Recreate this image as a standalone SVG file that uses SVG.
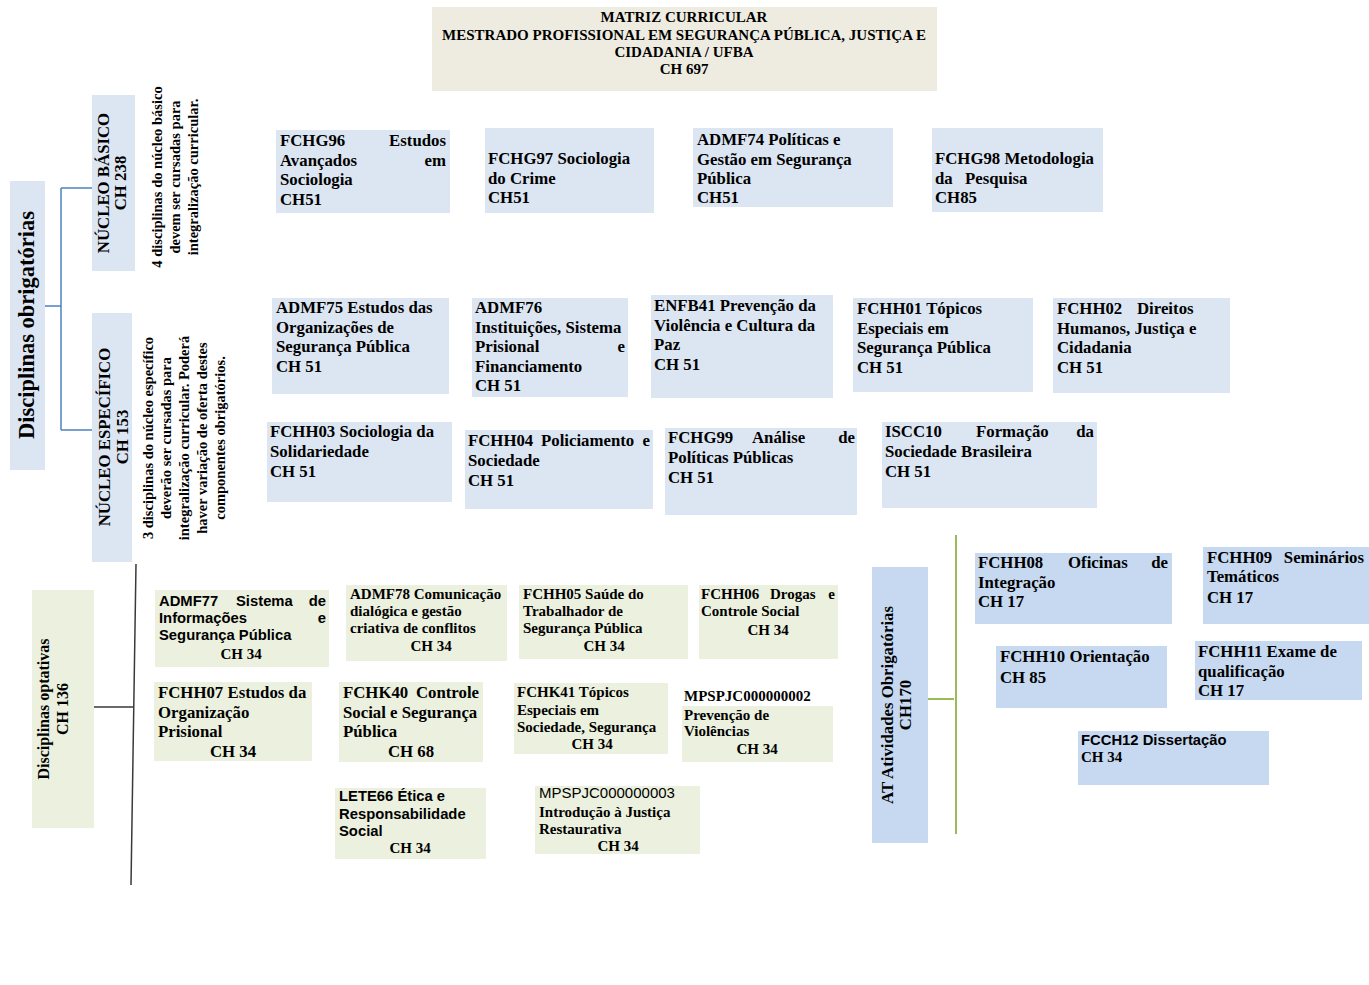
<svg xmlns="http://www.w3.org/2000/svg" width="1369" height="985" viewBox="0 0 1369 985">
<style>
.bg{fill:#ffffff}
.b{fill:#dce6f2}
.a{fill:#c6d9f1}
.g{fill:#ebf1de}
.t{fill:#eeece1}
text{font-family:"Liberation Serif","Times New Roman",serif;font-weight:bold;font-size:16.8px;fill:#000}
.tt{font-size:15px;text-anchor:middle}
.sm{font-size:15px}
.ss{font-family:"Liberation Sans",Arial,sans-serif;font-size:14.8px;font-weight:bold}
.sr{font-family:"Liberation Sans",Arial,sans-serif;font-size:15px;font-weight:normal}
.n{font-size:14.5px;text-anchor:middle}
.big{font-size:22.5px;text-anchor:middle}
.m{text-anchor:middle}
.e{text-anchor:end}
.cb{stroke:#4f81bd;stroke-width:1.5;fill:none}
.ck{stroke:#3a3a3a;stroke-width:1.5;fill:none}
.cg{stroke:#9bbb59;stroke-width:2;fill:none}
</style>
<rect class="bg" x="0" y="0" width="1369" height="985"/>

<g id="connectors">
<path class="cb" d="M45,306 H61 M61,188 V430 M61,188 H92 M61,430 H92"/>
<path class="ck" d="M136,564 L131,885 M94,707 H134"/>
<path class="cg" d="M956,535 V834 M928,699 H954"/>
</g>

<g id="title">
<rect class="t" x="432" y="7" width="505" height="84"/>
<text class="tt" x="684" y="22">MATRIZ CURRICULAR</text>
<text class="tt" x="684" y="39.5">MESTRADO PROFISSIONAL EM SEGURANÇA PÚBLICA, JUSTIÇA E</text>
<text class="tt" x="684" y="57">CIDADANIA / UFBA</text>
<text class="tt" x="684" y="74">CH 697</text>
</g>

<g id="obrigatorias">
<rect class="b" x="10" y="181" width="35" height="289"/>
<text class="big" transform="translate(34,325) rotate(-90)">Disciplinas obrigatórias</text>
</g>

<g id="nucleo-basico">
<rect class="b" x="92" y="95" width="43" height="176"/>
<text class="m" transform="translate(109,183) rotate(-90)">NÚCLEO BÁSICO</text>
<text class="m" transform="translate(126,183) rotate(-90)">CH 238</text>
</g>

<g id="nota-basico">
<text class="n" transform="translate(162,177) rotate(-90)">4 disciplinas do núcleo básico</text>
<text class="n" transform="translate(180,177) rotate(-90)">devem ser cursadas para</text>
<text class="n" transform="translate(198,177) rotate(-90)">integralização curricular.</text>
</g>

<g id="nucleo-especifico">
<rect class="b" x="92" y="313" width="40" height="249"/>
<text class="m" transform="translate(110,437) rotate(-90)">NÚCLEO ESPECÍFICO</text>
<text class="m" transform="translate(128,437) rotate(-90)">CH 153</text>
</g>

<g id="nota-especifico">
<text class="n" transform="translate(153,438) rotate(-90)">3 disciplinas do núcleo específico</text>
<text class="n" transform="translate(171,438) rotate(-90)">deverão ser cursadas para</text>
<text class="n" transform="translate(189,438) rotate(-90)">integralização curricular. Poderá</text>
<text class="n" transform="translate(207,438) rotate(-90)">haver variação de oferta destes</text>
<text class="n" transform="translate(225,438) rotate(-90)">componentes obrigatórios.</text>
</g>

<g id="FCHG96">
<rect class="b" x="276" y="130" width="174" height="83"/>
<text x="280" y="146">FCHG96</text><text class="e" x="446" y="146">Estudos</text>
<text x="280" y="165.5">Avançados</text><text class="e" x="446" y="165.5">em</text>
<text x="280" y="185">Sociologia</text>
<text x="280" y="204.5">CH51</text>
</g>

<g id="FCHG97">
<rect class="b" x="485" y="128" width="169" height="85"/>
<text x="488" y="164">FCHG97 Sociologia</text>
<text x="488" y="183.5">do Crime</text>
<text x="488" y="203">CH51</text>
</g>

<g id="ADMF74">
<rect class="b" x="693" y="128" width="200" height="79"/>
<text x="697" y="145">ADMF74 Políticas e</text>
<text x="697" y="164.5">Gestão em Segurança</text>
<text x="697" y="184">Pública</text>
<text x="697" y="203">CH51</text>
</g>

<g id="FCHG98">
<rect class="b" x="932" y="128" width="171" height="84"/>
<text x="935" y="164">FCHG98 Metodologia</text>
<text x="935" y="184">da</text><text x="965" y="184">Pesquisa</text>
<text x="935" y="203">CH85</text>
</g>

<g id="ADMF75">
<rect class="b" x="272" y="298" width="177" height="96"/>
<text x="276" y="313">ADMF75 Estudos das</text>
<text x="276" y="332.5">Organizações de</text>
<text x="276" y="352">Segurança Pública</text>
<text x="276" y="371.5">CH 51</text>
</g>

<g id="ADMF76">
<rect class="b" x="472" y="298" width="156" height="99"/>
<text x="475" y="313">ADMF76</text>
<text x="475" y="332.5">Instituições, Sistema</text>
<text x="475" y="352">Prisional</text><text class="e" x="625" y="352">e</text>
<text x="475" y="371.5">Financiamento</text>
<text x="475" y="391">CH 51</text>
</g>

<g id="ENFB41">
<rect class="b" x="651" y="295" width="182" height="103"/>
<text x="654" y="311">ENFB41 Prevenção da</text>
<text x="654" y="330.5">Violência e Cultura da</text>
<text x="654" y="350">Paz</text>
<text x="654" y="369.5">CH 51</text>
</g>

<g id="FCHH01">
<rect class="b" x="853" y="298" width="180" height="94"/>
<text x="857" y="314">FCHH01 Tópicos</text>
<text x="857" y="333.5">Especiais em</text>
<text x="857" y="353">Segurança Pública</text>
<text x="857" y="372.5">CH 51</text>
</g>

<g id="FCHH02">
<rect class="b" x="1053" y="298" width="177" height="95"/>
<text x="1057" y="314">FCHH02</text><text x="1137" y="314">Direitos</text>
<text x="1057" y="333.5">Humanos, Justiça e</text>
<text x="1057" y="353">Cidadania</text>
<text x="1057" y="372.5">CH 51</text>
</g>

<g id="FCHH03">
<rect class="b" x="267" y="422" width="185" height="80"/>
<text x="270" y="437">FCHH03 Sociologia da</text>
<text x="270" y="457">Solidariedade</text>
<text x="270" y="477">CH 51</text>
</g>

<g id="FCHH04">
<rect class="b" x="465" y="430" width="188" height="79"/>
<text x="468" y="446">FCHH04</text><text x="541" y="446">Policiamento</text><text class="e" x="650" y="446">e</text>
<text x="468" y="466">Sociedade</text>
<text x="468" y="486">CH 51</text>
</g>

<g id="FCHG99">
<rect class="b" x="665" y="428" width="192" height="87"/>
<text x="668" y="443">FCHG99</text><text x="752" y="443">Análise</text><text class="e" x="855" y="443">de</text>
<text x="668" y="463">Políticas Públicas</text>
<text x="668" y="483">CH 51</text>
</g>

<g id="ISCC10">
<rect class="b" x="882" y="422" width="215" height="86"/>
<text x="885" y="437">ISCC10</text><text x="976" y="437">Formação</text><text class="e" x="1094" y="437">da</text>
<text x="885" y="457">Sociedade Brasileira</text>
<text x="885" y="477">CH 51</text>
</g>

<g id="optativas">
<rect class="g" x="32" y="590" width="62" height="238"/>
<text class="m" style="font-size:16px" transform="translate(49,709) rotate(-90)">Disciplinas optativas</text>
<text class="m" style="font-size:16px" transform="translate(68,709) rotate(-90)">CH 136</text>
</g>

<g id="ADMF77">
<rect class="g" x="155" y="590" width="174" height="77"/>
<text class="ss" x="159" y="606">ADMF77</text><text class="ss" x="236" y="606">Sistema</text><text class="ss e" x="326" y="606">de</text>
<text class="ss" x="159" y="623">Informações</text><text class="ss e" x="326" y="623">e</text>
<text class="ss" x="159" y="640">Segurança Pública</text>
<text class="sm m" x="241" y="659">CH 34</text>
</g>

<g id="ADMF78">
<rect class="g" x="346" y="585" width="161" height="76"/>
<text class="sm" x="350" y="599">ADMF78 Comunicação</text>
<text class="sm" x="350" y="616">dialógica e gestão</text>
<text class="sm" x="350" y="633">criativa de conflitos</text>
<text class="sm m" x="431" y="651">CH 34</text>
</g>

<g id="FCHH05">
<rect class="g" x="519" y="585" width="169" height="74"/>
<text class="sm" x="523" y="599">FCHH05 Saúde do</text>
<text class="sm" x="523" y="616">Trabalhador de</text>
<text class="sm" x="523" y="633">Segurança Pública</text>
<text class="sm m" x="604" y="651">CH 34</text>
</g>

<g id="FCHH06">
<rect class="g" x="699" y="585" width="139" height="74"/>
<text class="sm" x="701" y="599">FCHH06</text><text class="sm" x="770" y="599">Drogas</text><text class="sm e" x="835" y="599">e</text>
<text class="sm" x="701" y="616">Controle Social</text>
<text class="sm m" x="768" y="635">CH 34</text>
</g>

<g id="FCHH07">
<rect class="g" x="154" y="682" width="158" height="79"/>
<text x="158" y="698">FCHH07 Estudos da</text>
<text x="158" y="718">Organização</text>
<text x="158" y="737">Prisional</text>
<text class="m" x="233" y="757">CH 34</text>
</g>

<g id="FCHK40">
<rect class="g" x="339" y="682" width="144" height="80"/>
<text x="343" y="698">FCHK40</text><text class="e" x="479" y="698">Controle</text>
<text x="343" y="718">Social e Segurança</text>
<text x="343" y="737">Pública</text>
<text class="m" x="411" y="757">CH 68</text>
</g>

<g id="FCHK41">
<rect class="g" x="514" y="683" width="154" height="71"/>
<text class="sm" x="517" y="697">FCHK41 Tópicos</text>
<text class="sm" x="517" y="715">Especiais em</text>
<text class="sm" x="517" y="732">Sociedade, Segurança</text>
<text class="sm m" x="592" y="749">CH 34</text>
</g>

<g id="MPSPJC000000002">
<rect class="g" x="682" y="706" width="151" height="56"/>
<text class="sm" x="684" y="701">MPSPJC000000002</text>
<text class="sm" x="684" y="720">Prevenção de</text>
<text class="sm" x="684" y="736">Violências</text>
<text class="sm m" x="757" y="754">CH 34</text>
</g>

<g id="LETE66">
<rect class="g" x="335" y="788" width="151" height="71"/>
<text class="ss" x="339" y="801">LETE66 Ética e</text>
<text class="ss" x="339" y="819">Responsabilidade</text>
<text class="ss" x="339" y="836">Social</text>
<text class="sm m" x="410" y="853">CH 34</text>
</g>

<g id="MPSPJC000000003">
<rect class="g" x="535" y="786" width="165" height="68"/>
<text class="sr" x="539" y="798">MPSPJC000000003</text>
<text class="sm" x="539" y="817">Introdução à Justiça</text>
<text class="sm" x="539" y="834">Restaurativa</text>
<text class="sm m" x="618" y="851">CH 34</text>
</g>

<g id="AT">
<rect class="a" x="872" y="567" width="56" height="276"/>
<text class="m" transform="translate(893,705) rotate(-90)">AT Atividades Obrigatórias</text>
<text class="m" transform="translate(911,705) rotate(-90)">CH170</text>
</g>

<g id="FCHH08">
<rect class="a" x="975" y="553" width="197" height="71"/>
<text x="978" y="568">FCHH08</text><text x="1068" y="568">Oficinas</text><text class="e" x="1168" y="568">de</text>
<text x="978" y="588">Integração</text>
<text x="978" y="607">CH 17</text>
</g>

<g id="FCHH09">
<rect class="a" x="1203" y="547" width="166" height="77"/>
<text x="1207" y="563">FCHH09</text><text class="e" x="1364" y="563">Seminários</text>
<text x="1207" y="582">Temáticos</text>
<text x="1207" y="603">CH 17</text>
</g>

<g id="FCHH10">
<rect class="a" x="996" y="646" width="171" height="62"/>
<text x="1000" y="662">FCHH10 Orientação</text>
<text x="1000" y="683">CH 85</text>
</g>

<g id="FCHH11">
<rect class="a" x="1195" y="641" width="167" height="59"/>
<text x="1198" y="657">FCHH11 Exame de</text>
<text x="1198" y="677">qualificação</text>
<text x="1198" y="696">CH 17</text>
</g>

<g id="FCCH12">
<rect class="a" x="1078" y="731" width="191" height="54"/>
<text class="ss" x="1081" y="745">FCCH12 Dissertação</text>
<text class="sm" x="1081" y="762">CH 34</text>
</g>
</svg>
